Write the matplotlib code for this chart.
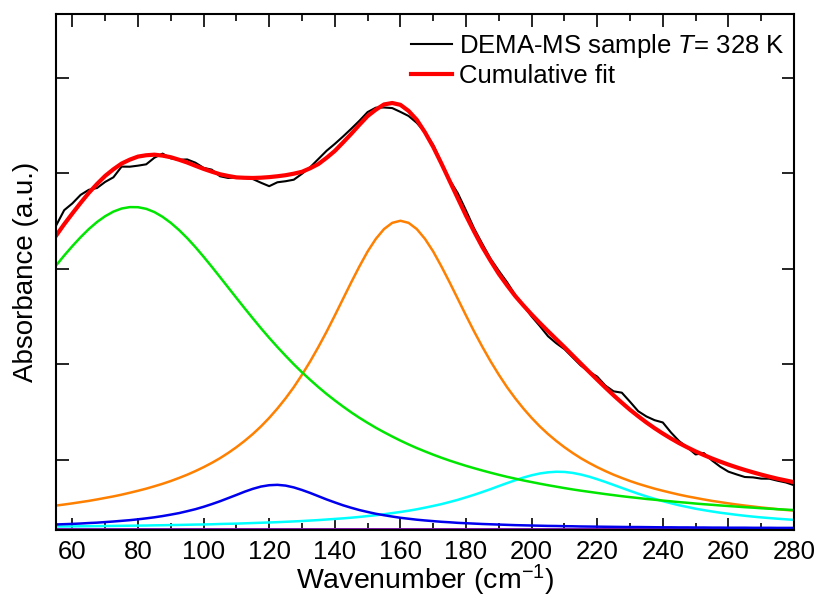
import numpy as np
import matplotlib
matplotlib.use('Agg')
import matplotlib.pyplot as plt
from matplotlib.ticker import MultipleLocator, NullFormatter

plt.rcParams['font.family'] = ['Liberation Sans', 'DejaVu Sans']
plt.rcParams['mathtext.fontset'] = 'custom'
plt.rcParams['mathtext.rm'] = 'Liberation Sans'
plt.rcParams['mathtext.it'] = 'Liberation Sans:italic'

# волновые числа, шаг 2.5 см-1
wn = np.arange(55, 280.1, 2.5)

# измеренный спектр (чёрный)
sample = [345.3, 361.6, 368.7, 377.6, 382.9, 384.8, 391.2, 396.0, 407.2, 407.1,
          408.2, 409.6, 416.5, 420.8, 415.9, 414.4, 414.7, 411.3, 405.9, 404.0,
          397.1, 395.3, 395.9, 395.5, 394.2, 390.3, 386.7, 390.8, 391.9, 393.5,
          399.7, 406.6, 415.2, 423.8, 431.0, 438.7, 446.8, 455.2, 464.3, 468.9,
          469.1, 468.5, 464.5, 460.2, 453.0, 443.0, 429.9, 411.5, 393.3, 379.3,
          361.2, 342.2, 326.1, 310.6, 298.1, 286.2, 272.8, 261.8, 250.3, 240.3,
          229.6, 222.3, 216.1, 207.5, 198.9, 192.5, 187.3, 177.9, 171.9, 170.5,
          161.0, 151.1, 145.6, 141.7, 139.3, 128.8, 119.7, 113.2, 105.8, 107.3,
          99.5, 93.0, 87.8, 84.9, 82.2, 81.8, 80.5, 80.4, 78.3, 76.5, 73.6]

# общая подгонка (красная)
fit = [334.8, 346.9, 358.2, 369.2, 379.7, 389.0, 397.5, 404.4, 410.4, 414.5,
       417.7, 419.1, 419.7, 418.7, 417.0, 414.4, 411.5, 408.1, 404.8, 401.9,
       399.2, 397.4, 395.9, 395.5, 395.3, 395.6, 396.2, 397.1, 398.2, 399.8,
       401.8, 405.5, 409.9, 416.4, 423.6, 432.4, 441.5, 451.0, 460.1, 466.8,
       472.3, 473.8, 471.9, 465.5, 456.2, 443.0, 427.8, 410.4, 392.2, 374.0,
       355.9, 339.0, 322.9, 308.5, 294.9, 283.0, 271.7, 261.8, 252.4, 243.5,
       234.9, 226.5, 218.2, 209.6, 201.0, 192.5, 184.1, 175.8, 167.7, 160.0,
       152.6, 145.8, 139.3, 133.3, 127.7, 122.5, 117.6, 113.2, 109.0, 105.2,
       101.6, 98.3, 95.2, 92.3, 89.6, 87.1, 84.7, 82.5, 80.4, 78.6, 76.8]

# компоненты подгонки
green = [303.6, 314.1, 324.0, 333.3, 341.8, 349.2, 355.3, 360.1, 363.3, 364.8,
         364.7, 363.0, 359.6, 354.6, 348.3, 340.8, 332.3, 322.9, 312.8, 302.3,
         291.5, 280.6, 269.7, 258.9, 248.3, 237.9, 227.9, 218.3, 209.1, 200.2,
         191.8, 183.9, 176.3, 169.1, 162.4, 156.0, 149.9, 144.2, 138.9, 133.8,
         129.1, 124.6, 120.3, 116.3, 112.5, 109.0, 105.6, 102.4, 99.4, 96.6,
         93.9, 91.4, 89.0, 86.7, 84.5, 82.4, 80.5, 78.6, 76.9, 75.2,
         73.6, 72.1, 70.6, 69.2, 67.9, 66.7, 65.5, 64.3, 63.2, 62.1,
         61.1, 60.2, 59.2, 58.4, 57.5, 56.7, 55.9, 55.2, 54.4, 53.7,
         53.1, 52.4, 51.8, 51.2, 50.6, 50.1, 49.5, 49.0, 48.5, 48.0, 47.6]
orange = [52.3, 53.4, 54.6, 55.9, 57.2, 58.7, 60.3, 61.9, 63.7, 65.7,
          67.8, 70.0, 72.5, 75.1, 78.0, 81.2, 84.6, 88.4, 92.5, 97.0,
          101.9, 107.4, 113.4, 120.0, 127.2, 135.2, 144.1, 153.9, 164.6, 176.3,
          189.3, 203.3, 218.4, 234.4, 251.3, 268.7, 286.0, 302.7, 318.3, 331.5,
          341.8, 348.3, 350.5, 348.3, 341.8, 331.5, 318.3, 302.7, 286.0, 268.7,
          251.3, 234.4, 218.4, 203.3, 189.3, 176.3, 164.6, 153.9, 144.1, 135.2,
          127.2, 120.0, 113.4, 107.4, 101.9, 97.0, 92.5, 88.4, 84.6, 81.2,
          78.0, 75.1, 72.5, 70.0, 67.8, 65.7, 63.7, 61.9, 60.3, 58.7,
          57.2, 55.9, 54.6, 53.4, 52.3, 51.3, 50.3, 49.4, 48.5, 47.7, 47.0]
blue = [32.5, 32.8, 33.1, 33.5, 34.0, 34.4, 35.0, 35.6, 36.3, 37.0,
        37.9, 38.9, 40.0, 41.3, 42.8, 44.4, 46.4, 48.5, 51.0, 53.8,
        56.8, 60.1, 63.4, 66.8, 69.8, 72.2, 73.6, 74.0, 73.2, 71.3,
        68.6, 65.5, 62.1, 58.7, 55.6, 52.6, 50.0, 47.6, 45.6, 43.7,
        42.2, 40.8, 39.5, 38.5, 37.5, 36.7, 36.0, 35.3, 34.8, 34.2,
        33.8, 33.4, 33.0, 32.7, 32.4, 32.1, 31.8, 31.6, 31.4, 31.2,
        31.0, 30.9, 30.7, 30.6, 30.4, 30.3, 30.2, 30.1, 30.0, 29.9,
        29.8, 29.8, 29.7, 29.6, 29.5, 29.5, 29.4, 29.4, 29.3, 29.3,
        29.2, 29.2, 29.1, 29.1, 29.1, 29.0, 29.0, 29.0, 28.9, 28.9, 28.9]
cyan = [30.4, 30.4, 30.5, 30.6, 30.7, 30.8, 30.9, 31.0, 31.1, 31.2,
        31.3, 31.4, 31.6, 31.7, 31.9, 32.0, 32.2, 32.4, 32.5, 32.7,
        33.0, 33.2, 33.4, 33.7, 34.0, 34.3, 34.6, 34.9, 35.3, 35.7,
        36.1, 36.6, 37.1, 37.7, 38.3, 38.9, 39.6, 40.4, 41.3, 42.2,
        43.2, 44.4, 45.6, 46.9, 48.4, 50.1, 51.9, 53.8, 56.0, 58.3,
        60.9, 63.6, 66.5, 69.5, 72.7, 75.8, 78.8, 81.6, 84.0, 85.9,
        87.1, 87.7, 87.5, 86.5, 84.8, 82.6, 79.9, 77.0, 73.9, 70.8,
        67.7, 64.7, 61.9, 59.3, 56.9, 54.7, 52.6, 50.8, 49.0, 47.5,
        46.1, 44.8, 43.7, 42.6, 41.6, 40.7, 39.9, 39.2, 38.5, 37.9, 37.3]
flat = [28.0] * len(wn)

fig = plt.figure(figsize=(8.2, 5.98), dpi=100)
ax = fig.add_axes([0.0683, 0.1137, 0.9, 0.8629])

ax.plot(wn, flat, color='#ff9090', lw=1.2)
ax.plot(wn, flat, color='#6a00b0', lw=1.2)
ax.plot(wn, cyan, color='#00ffff', lw=1.8)
ax.plot(wn, blue, color='#0000ee', lw=1.8)
ax.plot(wn, orange, color='#ff8000', lw=1.8)
ax.plot(wn, green, color='#00e600', lw=1.8)
ax.plot(wn, sample, color='black', lw=1.5, label='DEMA-MS sample $T$= 328 K')
ax.plot(wn, fit, color='#ff0000', lw=3, label='Cumulative fit')

ax.set_xlim(55, 280)
ax.set_ylim(26.7, 567)
ax.xaxis.set_major_locator(MultipleLocator(20))
ax.xaxis.set_minor_locator(MultipleLocator(10))
ax.yaxis.set_major_locator(MultipleLocator(100))
ax.yaxis.set_major_formatter(NullFormatter())
ax.tick_params(which='both', direction='in', top=True, right=True, width=1.2)
ax.tick_params(which='major', length=9, labelsize=18.5, pad=7)
ax.tick_params(which='minor', length=5)
for s in ax.spines.values():
    s.set_linewidth(1.5)

ax.set_xlabel('Wavenumber (cm$^{-1}$)', fontsize=20.5, labelpad=-1)
ax.set_ylabel('Absorbance (a.u.)', fontsize=20, labelpad=5)

ax.legend(loc='upper right', bbox_to_anchor=(1.0, 0.983), frameon=False,
          fontsize=18.5, handlelength=1.6, handletextpad=0.27,
          borderaxespad=0, borderpad=0.35, labelspacing=0.15)

fig.savefig('out.png', dpi=100)
